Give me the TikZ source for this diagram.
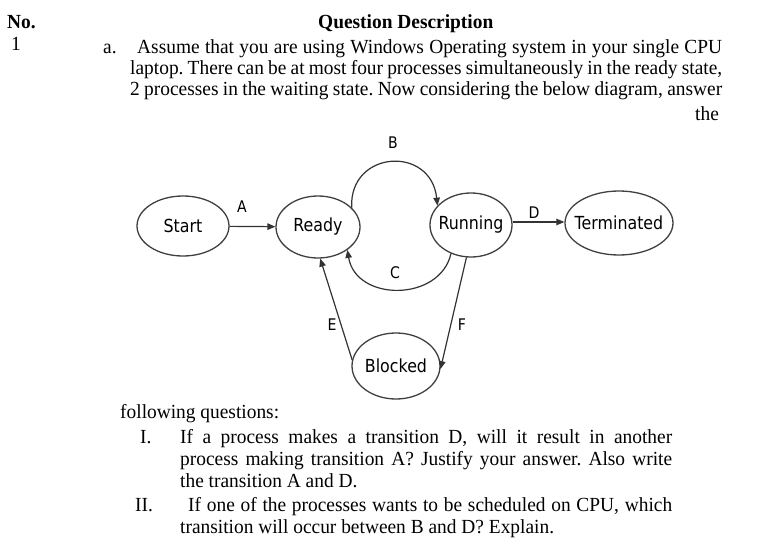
\documentclass[tikz,border=0pt]{standalone}
\usepackage{fontspec}
\setmainfont{Liberation Serif}[FakeStretch=0.97]
\newfontfamily\diagfont{DejaVu Sans}[FakeStretch=0.88]
\usetikzlibrary{shapes.geometric,arrows.meta}
\tikzset{
  txt/.style={anchor=base west, inner sep=0pt, font=\fontsize{20}{22}\selectfont},
  state/.style={ellipse, draw=black!75, line width=1.3pt, inner xsep=-10pt, inner ysep=-4pt, font=\diagfont\fontsize{18}{20}\selectfont},
  conn/.style={draw=black!80, line width=1.2pt, -{Triangle[length=8pt,width=6.5pt]}},
  lbl/.style={inner sep=0pt, font=\diagfont\fontsize{16}{18}\selectfont},
}
\newcommand{\jline}[2]{\makebox[#1pt][s]{#2}}
\frenchspacing
\begin{document}
\begin{tikzpicture}[x=1pt,y=-1pt]
\useasboundingbox[fill=white] (0,0) rectangle (764,538);
% header
\node[txt, font=\bfseries\fontsize{20}{22}\selectfont] (hno) at (7,28) {No.};
\node[txt, font=\bfseries\fontsize{20}{22}\selectfont] (hqd) at (318,28) {Question Description};
\node[txt] (n1) at (11,50) {1};
\node[txt] (la) at (103,53) {a.};
\node[txt] (l1) at (137,53) {\jline{585}{Assume that you are using Windows Operating system in your single CPU}};
\node[txt] (l2) at (130,74) {\jline{592}{laptop. There can be at most four processes simultaneously in the ready state,}};
\node[txt] (l3) at (130,95) {\jline{592}{2 processes in the waiting state. Now considering the below diagram, answer}};
\node[txt] (l4) at (695,120) {the};
% diagram
\node[state, minimum width=92, minimum height=60] (start) at (183,226) {Start};
\node[state, minimum width=84, minimum height=62] (ready) at (318,227) {Ready};
\node[state, minimum width=82, minimum height=64] (running) at (471,225) {Running};
\node[state, minimum width=108, minimum height=64] (term) at (619,223) {Terminated};
\node[state, minimum width=88, minimum height=66] (blocked) at (396,366) {Blocked};
\draw[conn] (start) -- (ready);
\draw[conn] (running.east |- 0,222) coordinate (dS) -- (term.west |- dS);
\draw[conn] (ready.30) .. controls (349,150) and (431,145) .. (running.150);
\draw[conn] (running.235) .. controls (440,302) and (356,302) .. (ready.322);
\draw[conn] (blocked.172) -- (ready.274);
\draw[conn] (running.262) -- (blocked.356);
\node[lbl] (lA) at (242,207) {A};
\node[lbl] (lB) at (393,143) {B};
\node[lbl] (lC) at (395,273) {C};
\node[lbl] (lD) at (534,213) {D};
\node[lbl] (lE) at (332,325) {E};
\node[lbl] (lF) at (462,325) {F};
% questions
\node[txt] (fq) at (120,418) {following questions:};
\node[txt] (q1n) at (140,443) {I.};
\node[txt] (q1a) at (180,443) {\jline{492}{If a process makes a transition D, will it result in another}};
\node[txt] (q1b) at (180,465) {\jline{492}{process making transition A? Justify your answer. Also write}};
\node[txt] (q1c) at (180,487) {the transition A and D.};
\node[txt] (q2n) at (135,511) {II.};
\node[txt] (q2a) at (188,511) {\jline{484}{If one of the processes wants to be scheduled on CPU, which}};
\node[txt] (q2b) at (180,533) {transition will occur between B and D? Explain.};
\end{tikzpicture}
\end{document}
